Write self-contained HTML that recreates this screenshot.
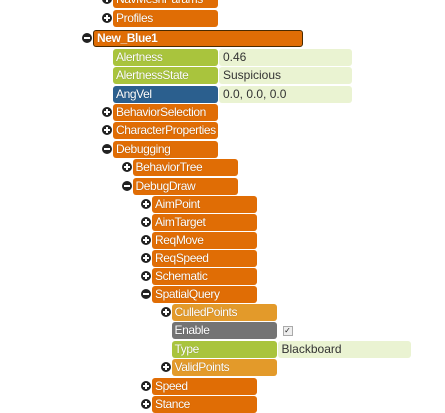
<!DOCTYPE html>
<html><head><meta charset="utf-8"><style>
body{margin:0;width:445px;height:400px;background:#fff;overflow:hidden;position:relative;font-family:"Liberation Sans",Arial,sans-serif}
.b{position:absolute;height:17px;border-radius:3px;color:#fff;font-size:12px;line-height:17px;padding-left:3px;box-sizing:border-box;text-shadow:0 0 1px rgba(0,0,0,.3);white-space:nowrap;overflow:hidden;letter-spacing:-0.4px}
.v{position:absolute;height:17px;border-radius:3px;background:#eaf3d2;color:#333;font-size:12px;line-height:17px;padding-left:4px;box-sizing:border-box}
.i{position:absolute;width:10px;height:10px;border-radius:50%;background:#222;}
.i:before{content:"";position:absolute;left:2px;top:4px;width:6px;height:2px;background:#fff}
.i.p:after{content:"";position:absolute;left:4px;top:2px;width:2px;height:6px;background:#fff}
</style></head><body>
<script>
// [label, level, type, icon, value, top]
const rows=[
["NavMeshParams",1,"o","p",null,-9],
["Profiles",1,"o","p",null,10],
["New_Blue1",0,"root","m",null,30],
["Alertness",1,"g",null,"0.46",49],
["AlertnessState",1,"g",null,"Suspicious",67],
["AngVel",1,"bl",null,"0.0, 0.0, 0.0",86],
["BehaviorSelection",1,"o","p",null,104],
["CharacterProperties",1,"o","p",null,122],
["Debugging",1,"o","m",null,141],
["BehaviorTree",2,"o","p",null,159],
["DebugDraw",2,"o","m",null,178],
["AimPoint",3,"o","p",null,196],
["AimTarget",3,"o","p",null,214],
["ReqMove",3,"o","p",null,232],
["ReqSpeed",3,"o","p",null,250],
["Schematic",3,"o","p",null,268],
["SpatialQuery",3,"o","m",null,286],
["CulledPoints",4,"lo","p",null,304],
["Enable",4,"gr",null,"check",322],
["Type",4,"g",null,"Blackboard",341],
["ValidPoints",4,"lo","p",null,359],
["Speed",3,"o","p",null,378],
["Stance",3,"o","p",null,396]
];
const colors={o:"#e06d05",root:"#e06d05",g:"#a9c43d",bl:"#2b5f8e",gr:"#747474",lo:"#e39a2a"};
rows.forEach(r=>{
 const [label,lvl,t,ic,val,y]=r;
 const x=lvl===0?93:113+(lvl-1)*19.5;
 const w=lvl===0?210:105;
 const d=document.createElement('div');
 d.className='b';
 
 
 d.style.left=x+'px';d.style.top=y+'px';d.style.width=w+'px';
 d.style.background=colors[t];
 if(t==='root'){d.style.border='1px solid #4a2a00';d.style.fontWeight='bold';d.style.lineHeight='15px';}
 d.textContent=label;
 document.body.appendChild(d);
 if(ic){
  const i=document.createElement('div');
  i.className='i'+(ic==='p'?' p':'');
  
  
  i.style.left=(x-11)+'px';i.style.top=(y+3)+'px';
  document.body.appendChild(i);
 }
 if(val==='check'){
  const c=document.createElement('div');
  
  
  c.style.cssText='position:absolute;width:8px;height:8px;border:1px solid #aaa;background:#eee;font-size:8px;line-height:8px;text-align:center;color:#222;left:'+(x+111)+'px;top:'+(y+4)+'px';
  c.textContent='✓';
  document.body.appendChild(c);
 }else if(val){
  const v=document.createElement('div');
  v.className='v';
  
  
  v.style.left=(x+106)+'px';v.style.top=y+'px';v.style.width='133px';
  v.textContent=val;
  document.body.appendChild(v);
 }
});
</script>
</body></html>
